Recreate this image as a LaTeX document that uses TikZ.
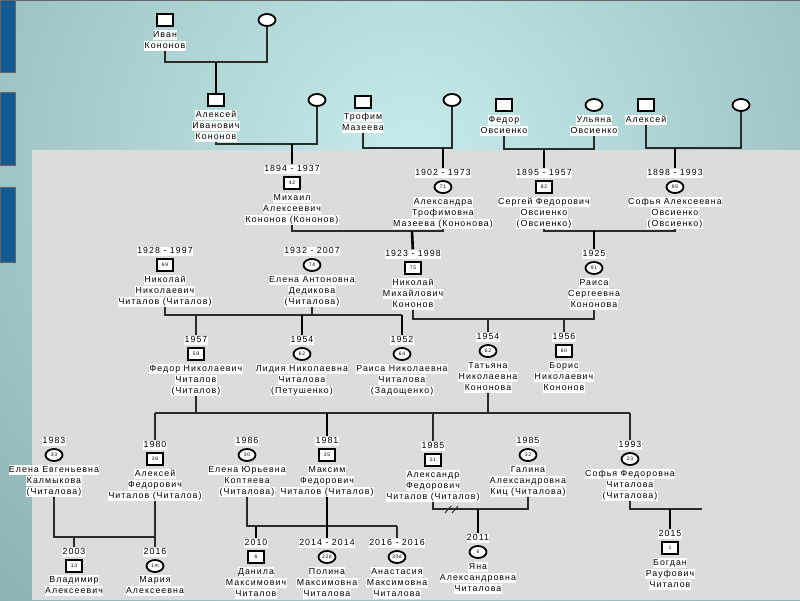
\documentclass[tikz,border=0pt]{standalone}
\usepackage{fontspec}
\setmainfont{Liberation Sans}[LetterSpace=12]
\usepackage{tikz}
\usetikzlibrary{positioning, shapes.geometric}
\definecolor{bglight}{HTML}{C6ECEB}
\definecolor{bgdark}{HTML}{6F959A}
\definecolor{panel}{HTML}{DCDCDC}
\definecolor{tab}{HTML}{135C93}
\definecolor{wire}{HTML}{2B2B2B}
\newcommand{\wb}[1]{{\setlength{\fboxsep}{0.4pt}\colorbox{white}{\rule[-1.9pt]{0pt}{8.6pt}#1}}}

\begin{document}
\begin{tikzpicture}[x=1pt, y=-1pt,
    font=\fontsize{8.8}{11}\selectfont,
    male/.style={draw, line width=1.8pt, fill=white, minimum width=16pt,
        minimum height=12pt, inner sep=0pt, font=\fontsize{5}{5}\selectfont},
    female/.style={male, ellipse, minimum width=17pt},
    yr/.style={inner sep=0pt, above=2pt of #1},
    nm/.style={inner sep=0pt, align=center, below=3pt of #1},
    cpl/.style={draw=wire, line width=1.1pt},
    dsc/.style={draw=black, line width=2.6pt},
    kin/.style={draw=wire, line width=1.3pt},
  ]
  \useasboundingbox (0,0) rectangle (800,600);
  \clip (0,0) rectangle (800,600);
  \shade[inner color=bglight, outer color=bgdark] (410,160) circle (900);
  \fill[panel] (32,150) rectangle (800,600);
  \fill[tab, draw=black!60] (0,-1) rectangle (15,72);
  \fill[tab, draw=black!60] (0,92) rectangle (15,165);
  \fill[tab, draw=black!60] (0,187) rectangle (15,262);
  \draw[black!60, line width=1.5pt] (0,0) -- (800,0);
  % first generations
  \node[male] (ivan) at (165,20) {};
  \node[nm=ivan] (n_ivan) {\wb{Иван}\\\wb{Кононов}};
  \node[female] (ivanw) at (267,20) {};
  \node[male] (alexi) at (216,100) {};
  \node[nm=alexi] (n_alexi) {\wb{Алексей}\\\wb{Иванович}\\\wb{Кононов}};
  \node[female] (alexiw) at (317,100) {};
  \node[male] (trofim) at (363,102) {};
  \node[nm=trofim] (n_trofim) {\wb{Трофим}\\\wb{Мазеева}};
  \node[female] (trofimw) at (452,100) {};
  \node[male] (fedor) at (504,105) {};
  \node[nm=fedor] (n_fedor) {\wb{Федор}\\\wb{Овсиенко}};
  \node[female] (ulyana) at (594,105) {};
  \node[nm=ulyana] (n_ulyana) {\wb{Ульяна}\\\wb{Овсиенко}};
  \node[male] (aleksey) at (646,105) {};
  \node[nm=aleksey] (n_aleksey) {\wb{Алексей}};
  \node[female] (alekseyw) at (741,105) {};
  % generation 2
  \node[male] (mikhail) at (292,183) {42};
  \node[yr=mikhail] (y_mikhail) {\wb{1894 - 1937}};
  \node[nm=mikhail] (n_mikhail) {\wb{Михаил}\\\wb{Алексеевич}\\\wb{Кононов (Кононов)}};
  \node[female] (alexandra) at (443,187) {71};
  \node[yr=alexandra] (y_alexandra) {\wb{1902 - 1973}};
  \node[nm=alexandra] (n_alexandra) {\wb{Александра}\\\wb{Трофимовна}\\\wb{Мазеева (Кононова)}};
  \node[male] (sergey) at (544,187) {82};
  \node[yr=sergey] (y_sergey) {\wb{1895 - 1957}};
  \node[nm=sergey] (n_sergey) {\wb{Сергей Федорович}\\\wb{Овсиенко}\\\wb{(Овсиенко)}};
  \node[female] (sofya) at (675,187) {95};
  \node[yr=sofya] (y_sofya) {\wb{1898 - 1993}};
  \node[nm=sofya] (n_sofya) {\wb{Софья Алексеевна}\\\wb{Овсиенко}\\\wb{(Овсиенко)}};
  % generation 3
  \node[male] (nikolayn) at (165,265) {69};
  \node[yr=nikolayn] (y_nikolayn) {\wb{1928 - 1997}};
  \node[nm=nikolayn] (n_nikolayn) {\wb{Николай}\\\wb{Николаевич}\\\wb{Читалов (Читалов)}};
  \node[female] (elenaa) at (312,265) {74};
  \node[yr=elenaa] (y_elenaa) {\wb{1932 - 2007}};
  \node[nm=elenaa] (n_elenaa) {\wb{Елена Антоновна}\\\wb{Дедикова}\\\wb{(Читалова)}};
  \node[male] (nikolaym) at (413,268) {75};
  \node[yr=nikolaym] (y_nikolaym) {\wb{1923 - 1998}};
  \node[nm=nikolaym] (n_nikolaym) {\wb{Николай}\\\wb{Михайлович}\\\wb{Кононов}};
  \node[female] (raisas) at (594,268) {91};
  \node[yr=raisas] (y_raisas) {\wb{1925}};
  \node[nm=raisas] (n_raisas) {\wb{Раиса}\\\wb{Сергеевна}\\\wb{Кононова}};
  % generation 4
  \node[male] (fedorn) at (196,354) {59};
  \node[yr=fedorn] (y_fedorn) {\wb{1957}};
  \node[nm=fedorn] (n_fedorn) {\wb{Федор Николаевич}\\\wb{Читалов}\\\wb{(Читалов)}};
  \node[female] (lidiya) at (302,354) {62};
  \node[yr=lidiya] (y_lidiya) {\wb{1954}};
  \node[nm=lidiya] (n_lidiya) {\wb{Лидия Николаевна}\\\wb{Читалова}\\\wb{(Петушенко)}};
  \node[female] (raisan) at (402,354) {64};
  \node[yr=raisan] (y_raisan) {\wb{1952}};
  \node[nm=raisan] (n_raisan) {\wb{Раиса Николаевна}\\\wb{Читалова}\\\wb{(Задощенко)}};
  \node[female] (tatyana) at (488,351) {62};
  \node[yr=tatyana] (y_tatyana) {\wb{1954}};
  \node[nm=tatyana] (n_tatyana) {\wb{Татьяна}\\\wb{Николаевна}\\\wb{Кононова}};
  \node[male] (boris) at (564,351) {60};
  \node[yr=boris] (y_boris) {\wb{1956}};
  \node[nm=boris] (n_boris) {\wb{Борис}\\\wb{Николаевич}\\\wb{Кононов}};
  % generation 5
  \node[female] (elenae) at (54,455) {33};
  \node[yr=elenae] (y_elenae) {\wb{1983}};
  \node[nm=elenae] (n_elenae) {\wb{Елена Евгеньевна}\\\wb{Калмыкова}\\\wb{(Читалова)}};
  \node[male] (alekseyf) at (155,459) {36};
  \node[yr=alekseyf] (y_alekseyf) {\wb{1980}};
  \node[nm=alekseyf] (n_alekseyf) {\wb{Алексей}\\\wb{Федорович}\\\wb{Читалов (Читалов)}};
  \node[female] (elenay) at (247,455) {30};
  \node[yr=elenay] (y_elenay) {\wb{1986}};
  \node[nm=elenay] (n_elenay) {\wb{Елена Юрьевна}\\\wb{Коптяева}\\\wb{(Читалова)}};
  \node[male] (maksim) at (327,455) {35};
  \node[yr=maksim] (y_maksim) {\wb{1981}};
  \node[nm=maksim] (n_maksim) {\wb{Максим}\\\wb{Федорович}\\\wb{Читалов (Читалов)}};
  \node[male] (aleksandr) at (433,460) {31};
  \node[yr=aleksandr] (y_aleksandr) {\wb{1985}};
  \node[nm=aleksandr] (n_aleksandr) {\wb{Александр}\\\wb{Федорович}\\\wb{Читалов (Читалов)}};
  \node[female] (galina) at (528,455) {32};
  \node[yr=galina] (y_galina) {\wb{1985}};
  \node[nm=galina] (n_galina) {\wb{Галина}\\\wb{Александровна}\\\wb{Киц (Читалова)}};
  \node[female] (sofyaf) at (630,459) {23};
  \node[yr=sofyaf] (y_sofyaf) {\wb{1993}};
  \node[nm=sofyaf] (n_sofyaf) {\wb{Софья Федоровна}\\\wb{Читалова}\\\wb{(Читалова)}};
  % generation 6
  \node[male] (vladimir) at (74,566) {13};
  \node[yr=vladimir] (y_vladimir) {\wb{2003}};
  \node[nm=vladimir, below=2pt of vladimir] (n_vladimir) {\wb{Владимир}\\\wb{Алексеевич}};
  \node[female] (mariya) at (155,566) {1m};
  \node[yr=mariya] (y_mariya) {\wb{2016}};
  \node[nm=mariya, below=2pt of mariya] (n_mariya) {\wb{Мария}\\\wb{Алексеевна}};
  \node[male] (danila) at (256,557) {6};
  \node[yr=danila] (y_danila) {\wb{2010}};
  \node[nm=danila] (n_danila) {\wb{Данила}\\\wb{Максимович}\\\wb{Читалов}};
  \node[female] (polina) at (327,557) {22d};
  \node[yr=polina] (y_polina) {\wb{2014 - 2014}};
  \node[nm=polina] (n_polina) {\wb{Полина}\\\wb{Максимовна}\\\wb{Читалова}};
  \node[female] (anastasiya) at (397,557) {30d};
  \node[yr=anastasiya] (y_anastasiya) {\wb{2016 - 2016}};
  \node[nm=anastasiya] (n_anastasiya) {\wb{Анастасия}\\\wb{Максимовна}\\\wb{Читалова}};
  \node[female] (yana) at (478,552) {6};
  \node[yr=yana] (y_yana) {\wb{2011}};
  \node[nm=yana] (n_yana) {\wb{Яна}\\\wb{Александровна}\\\wb{Читалова}};
  \node[male] (bogdan) at (670,548) {1};
  \node[yr=bogdan] (y_bogdan) {\wb{2015}};
  \node[nm=bogdan] (n_bogdan) {\wb{Богдан}\\\wb{Рауфович}\\\wb{Читалов}};
  % unions and descent
  \coordinate (u1) at (216,62);
  \draw[cpl] (n_ivan) |- (u1) -| (ivanw);
  \draw[dsc] (u1) -- (alexi);
  \coordinate (u2) at (292,144);
  \draw[cpl] (n_alexi) |- (u2) -| (alexiw);
  \draw[dsc] (u2) -- (y_mikhail);
  \coordinate (u3) at (443,148);
  \draw[cpl] (n_trofim) |- (u3) -| (trofimw);
  \draw[dsc] (u3) -- (y_alexandra);
  \coordinate (u4) at (544,149);
  \draw[cpl] (n_fedor) |- (u4) -| (n_ulyana);
  \draw[dsc] (u4) -- (y_sergey);
  \coordinate (u5) at (675,148);
  \draw[cpl] (n_aleksey) |- (u5) -| (alekseyw);
  \draw[dsc] (u5) -- (y_sofya);
  \coordinate (u6) at (412,231);
  \draw[cpl] (n_mikhail) |- (u6) -| (n_alexandra);
  \draw[dsc] (u6) -- (y_nikolaym);
  \coordinate (u7) at (594,231);
  \draw[cpl] (n_sergey) |- (u7) -| (n_sofya);
  \draw[dsc] (u7) -- (y_raisas);
  \coordinate (u8) at (402,315);
  \draw[cpl] (n_nikolayn) |- (u8);
  \draw[cpl] (n_elenaa) -- (n_elenaa |- u8);
  \draw[kin] (y_fedorn |- u8) -- (y_fedorn);
  \draw[dsc] (y_lidiya |- u8) -- (y_lidiya);
  \draw[dsc] (u8) -- (y_raisan);
  \coordinate (u9) at (594,319);
  \draw[cpl] (n_nikolaym) |- (u9) -- (n_raisas);
  \draw[kin] (y_tatyana |- u9) -- (y_tatyana);
  \draw[kin] (y_boris |- u9) -- (y_boris);
  \coordinate (u10) at (630,413);
  \draw[cpl] (n_fedorn) -- (n_fedorn |- u10);
  \draw[cpl] (n_tatyana) -- (n_tatyana |- u10);
  \draw[cpl] (y_alekseyf |- u10) -- (u10);
  \draw[kin] (y_alekseyf |- u10) -- (y_alekseyf);
  \draw[dsc] (y_maksim |- u10) -- (y_maksim);
  \draw[kin] (y_aleksandr |- u10) -- (y_aleksandr);
  \draw[kin] (u10) -- (y_sofyaf);
  \coordinate (u11) at (155,537);
  \draw[cpl] (n_elenae) |- (u11) -- (n_alekseyf);
  \draw[kin] (y_vladimir |- u11) -- (y_vladimir);
  \draw[kin] (u11) -- (y_mariya);
  \coordinate (u12) at (397,526);
  \draw[cpl] (n_elenay) |- (u12);
  \draw[dsc] (n_maksim) -- (y_polina);
  \draw[dsc] (y_danila |- u12) -- (y_danila);
  \draw[kin] (u12) -- (y_anastasiya);
  \coordinate (u13) at (528,509);
  \draw[cpl] (n_aleksandr) |- (u13) -- (n_galina);
  \draw[dsc] (y_yana |- u13) -- (y_yana);
  \coordinate (dv) at (453,509);
  \draw[wire, line width=0.9pt] ([shift={(-8,4)}]dv) -- ([shift={(-2,-3)}]dv)
    ([shift={(-1,4)}]dv) -- ([shift={(5,-3)}]dv);
  \coordinate (u14) at (702,509);
  \draw[cpl] (n_sofyaf) |- (u14);
  \draw[dsc] (y_bogdan |- u14) -- (y_bogdan);
\end{tikzpicture}
\end{document}
